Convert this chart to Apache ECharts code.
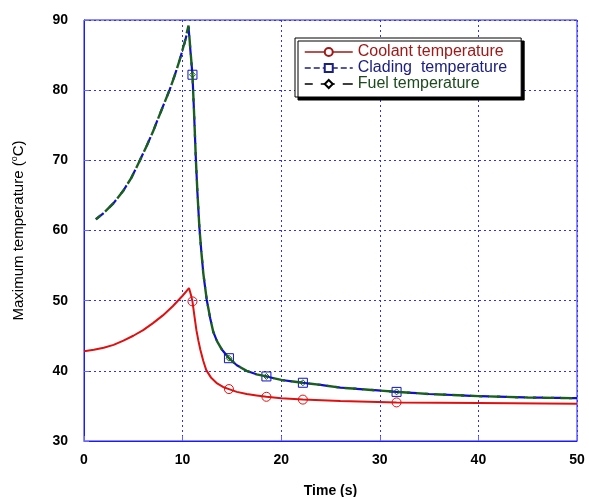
<!DOCTYPE html>
<html><head><meta charset="utf-8">
<script src="https://cdn.jsdelivr.net/npm/echarts@6/dist/echarts.min.js"></script>
<style>html,body{margin:0;padding:0;background:#fff}#c{width:589px;height:497px}</style>
</head><body><div id="c"></div>
<script>
// Data
const timeCoolant = [0, 1, 2, 3, 4, 5, 6, 7, 8, 9, 10, 10.65, 10.85, 11.0, 11.2, 11.4, 11.6, 11.8, 12.1, 12.4, 12.9, 13.5, 14.1, 14.7, 15.5, 16.5, 17.5, 18.5, 20, 22.2, 26, 31.7, 40, 50];
const coolant     = [42.8, 43.0, 43.3, 43.7, 44.3, 45.0, 45.8, 46.8, 47.9, 49.2, 50.7, 51.8, 50.8, 49.9, 47.8, 45.8, 44.3, 43.0, 41.4, 40.1, 39.0, 38.2, 37.7, 37.4, 37.0, 36.7, 36.5, 36.3, 36.1, 35.9, 35.7, 35.5, 35.4, 35.3];
const coolantMarkerTimes = [11.0, 14.7, 18.5, 22.2, 31.7];

const timeClad = [1.2, 2, 3, 4, 4.8, 5.6, 6.4, 7, 7.5, 8.1, 8.7, 9.2, 9.7, 10.2, 10.6, 10.8, 11.0, 11.15, 11.35, 11.5, 11.7, 11.9, 12.1, 12.45, 12.8, 13.1, 13.5, 14, 14.7, 15.5, 16.5, 17.5, 18.5, 20, 22.2, 24, 26, 28, 31.7, 35, 40, 45, 50];
const clading  = [61.6, 62.5, 63.9, 65.7, 67.5, 69.8, 72.2, 74.1, 75.9, 78.0, 80.1, 82.1, 84.3, 86.7, 89.0, 85.5, 82.2, 77.2, 70.0, 65.5, 60.5, 57.0, 53.9, 50.1, 47.5, 45.6, 44.2, 43.0, 41.8, 40.8, 40.0, 39.5, 39.2, 38.7, 38.3, 38.0, 37.6, 37.4, 37.0, 36.7, 36.4, 36.2, 36.1];
const fuel     = [61.6, 62.5, 63.9, 65.7, 67.5, 69.8, 72.2, 74.1, 75.9, 78.0, 80.1, 82.1, 84.3, 86.8, 89.2, 85.6, 82.2, 77.2, 70.0, 65.5, 60.5, 57.0, 53.9, 50.1, 47.5, 45.6, 44.2, 43.0, 41.8, 40.8, 40.0, 39.5, 39.2, 38.7, 38.3, 38.0, 37.6, 37.4, 37.0, 36.7, 36.4, 36.2, 36.1];
const cladMarkerTimes = [11.0, 14.7, 18.5, 22.2, 31.7];

const seriesNames = ['Coolant temperature', 'Clading  temperature', 'Fuel temperature'];
const xTicks = [0, 10, 20, 30, 40, 50];
const yTicks = [30, 40, 50, 60, 70, 80, 90];

function build(xs, ys, marks) {
  return xs.map((x, i) => marks.indexOf(x) >= 0 ? {value: [x, ys[i]]} : {value: [x, ys[i]], symbol: 'none'});
}

const chart = echarts.init(document.getElementById('c'), null, {renderer: 'canvas'});
const axisBlue = '#1a1aff';
const font = 'Liberation Sans, Arial, sans-serif';

chart.setOption({
  animation: false,
  backgroundColor: '#fff',
  grid: {left: 84, right: 12, top: 20, bottom: 56, show: true, borderColor: axisBlue, borderWidth: 1,
    containLabel: false, outerBoundsMode: 'none'},
  legend: {
    orient: 'vertical', left: 295, top: 38,
    itemWidth: 48, itemHeight: 10, itemGap: 0,
    padding: [6, 14, 5, 9],
    backgroundColor: '#fff', borderColor: '#000', borderWidth: 1,
    shadowColor: '#000', shadowOffsetX: 3, shadowOffsetY: 3, shadowBlur: 0,
    textStyle: {fontFamily: font, fontSize: 16},
    data: [
      {name: seriesNames[0], textStyle: {color: '#a01818'}, lineStyle: {color: '#a01818', width: 1.5, type: 'solid'}, itemStyle: {color: '#fff', borderColor: '#a01818'}},
      {name: seriesNames[1], textStyle: {color: '#1c2080'}, lineStyle: {color: '#1c2080', width: 1.5, type: [6, 3]}, itemStyle: {color: '#fff', borderColor: '#1c2080'}},
      {name: seriesNames[2], textStyle: {color: '#1e4a1e'}, lineStyle: {color: '#000', width: 1.5, type: [14, 8]}, itemStyle: {color: '#fff', borderColor: '#000'}}
    ]
  },
  xAxis: {
    type: 'value', min: 0, max: 50, interval: 10,
    name: 'Time (s)', nameLocation: 'middle', nameGap: 43,
    nameTextStyle: {fontFamily: font, fontSize: 14, fontWeight: 'bold', color: '#000'},
    axisLine: {show: true, lineStyle: {color: axisBlue, width: 1}},
    axisTick: {show: true, inside: true, length: 5, lineStyle: {color: '#6666ff'}},
    axisLabel: {fontFamily: font, fontSize: 14, fontWeight: 'bold', color: '#000', margin: 12,
      formatter: v => xTicks.indexOf(v) >= 0 ? String(v) : ''},
    splitLine: {show: true, lineStyle: {color: '#3030ee', type: [2, 3], width: 1}}
  },
  yAxis: {
    type: 'value', min: 30, max: 90, interval: 10,
    name: 'Maximum temperature ({sup|o}C)', nameLocation: 'middle', nameGap: 56,
    nameTextStyle: {fontFamily: font, fontSize: 15, color: '#000',
      rich: {sup: {fontSize: 9, verticalAlign: 'top', padding: [0, 0, 9, 0], fontFamily: font}}},
    axisLine: {show: true, lineStyle: {color: axisBlue, width: 1}},
    axisTick: {show: true, inside: true, length: 5, lineStyle: {color: '#6666ff'}},
    axisLabel: {fontFamily: font, fontSize: 14, fontWeight: 'bold', color: '#000', margin: 16,
      formatter: v => yTicks.indexOf(v) >= 0 ? String(v) : ''},
    splitLine: {show: true, lineStyle: {color: '#3030ee', type: [2, 3], width: 1}}
  },
  series: [
    {
      name: seriesNames[0], type: 'line', data: build(timeCoolant, coolant, coolantMarkerTimes),
      symbol: 'circle', symbolSize: 9, showSymbol: true, smooth: false,
      lineStyle: {color: '#e01010', width: 2},
      itemStyle: {color: 'rgba(255,255,255,0)', borderColor: '#e01010', borderWidth: 1},
      z: 3
    },
    {
      name: seriesNames[1], type: 'line', data: build(timeClad, clading, cladMarkerTimes),
      symbol: 'rect', symbolSize: 9, smooth: false,
      lineStyle: {color: '#1010c8', width: 2.2, type: [10, 8], dashOffset: 0},
      itemStyle: {color: 'rgba(255,255,255,0)', borderColor: '#1010c8', borderWidth: 1},
      z: 4
    },
    {
      name: seriesNames[2], type: 'line', data: build(timeClad, fuel, cladMarkerTimes),
      symbol: 'diamond', symbolSize: 6, smooth: false,
      lineStyle: {color: '#1a5e22', width: 2.4, type: [12, 6], dashOffset: 6},
      itemStyle: {color: 'rgba(255,255,255,0)', borderColor: '#1a5e22', borderWidth: 1},
      z: 5
    }
  ]
});
</script></body></html>
